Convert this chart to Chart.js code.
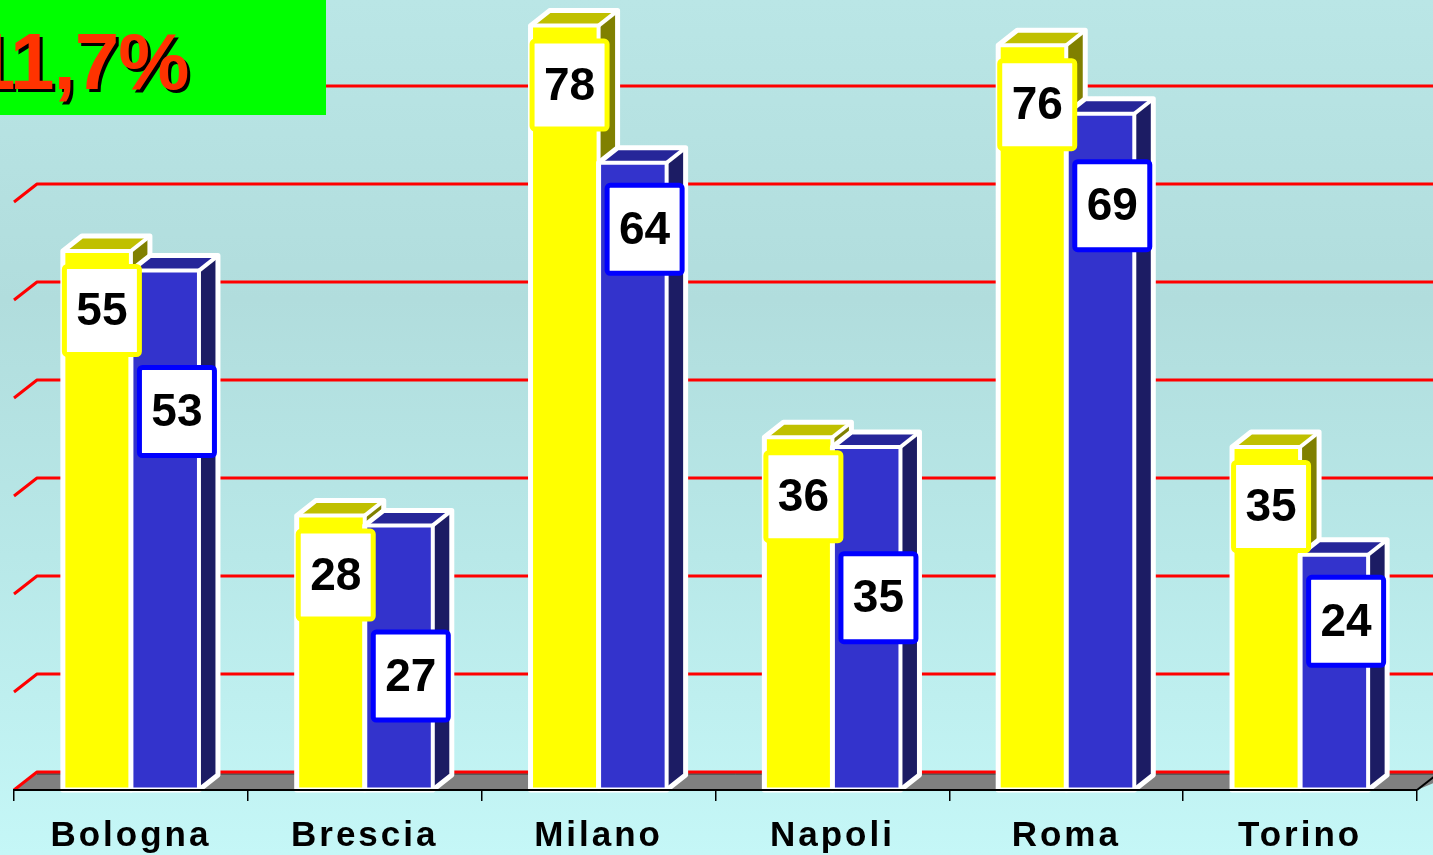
<!DOCTYPE html>
<html><head><meta charset="utf-8">
<script src="https://cdn.jsdelivr.net/npm/chart.js@4.4.1/dist/chart.umd.min.js"></script>
<style>
html,body{margin:0;padding:0;width:1433px;height:855px;overflow:hidden;}
body{position:relative;background:linear-gradient(to bottom, rgb(186,230,230) 0%, rgb(177,221,221) 35%, rgb(184,232,232) 65%, rgb(197,247,247) 100%);}
#wrap{position:absolute;left:0;top:0;width:1433px;height:855px;}
#badge{position:absolute;left:0;top:0;width:326px;height:115px;background:#00FF00;overflow:hidden;}
#badge span{position:absolute;left:-29px;top:22px;font:bold 80px/80px 'Liberation Sans',Arial,sans-serif;letter-spacing:-1px;color:#FF3300;text-shadow:3px 3px 0 #000;white-space:nowrap;}
</style></head><body>
<div id="wrap"><canvas id="c" width="1433" height="855"></canvas></div>
<div id="badge"><span>11,7%</span></div>
<script>
// ---- data ----
const categories = ['Bologna', 'Brescia', 'Milano', 'Napoli', 'Roma', 'Torino'];
const seriesYellow = [55, 28, 78, 36, 76, 35];
const seriesBlue = [53, 27, 64, 35, 69, 24];
const gridValues = [0, 10, 20, 30, 40, 50, 60, 70, 80];

// ---- styling ----
const DEPTH = {dx: 19, dy: -15};
const FLOOR = {dx: 23, dy: -18};
const faces = [
  {front: '#FFFF00', top: '#C0C000', side: '#808000', label: '#FFFF00'},
  {front: '#3333CC', top: '#262699', side: '#1C1C64', label: '#0000FF'}
];

function poly(ctx, pts) {
  ctx.beginPath();
  ctx.moveTo(pts[0][0], pts[0][1]);
  for (let i = 1; i < pts.length; i++) ctx.lineTo(pts[i][0], pts[i][1]);
}

const wallPlugin = {
  id: 'wall3d',
  beforeDraw(chart) { chart.ctx.letterSpacing = '3px'; },
  beforeDatasetsDraw(chart) {
    const ctx = chart.ctx; ctx.letterSpacing = '0px';
    const a = chart.chartArea, y = chart.scales.y;
    const y0 = y.getPixelForValue(0);
    ctx.save();
    ctx.fillStyle = '#808080';
    poly(ctx, [[a.left, y0], [a.left + FLOOR.dx, y0 + FLOOR.dy], [a.right + FLOOR.dx + 20, y0 + FLOOR.dy], [a.right, y0]]);
    ctx.closePath(); ctx.fill();
    ctx.strokeStyle = '#333'; ctx.lineWidth = 1;
    ctx.beginPath(); ctx.moveTo(a.left + FLOOR.dx, y0 + FLOOR.dy + 2); ctx.lineTo(a.right + FLOOR.dx + 20, y0 + FLOOR.dy + 2); ctx.stroke();
    ctx.strokeStyle = '#FF0000'; ctx.lineWidth = 3; ctx.lineJoin = 'round';
    gridValues.forEach(v => {
      const fy = y.getPixelForValue(v), by = fy + FLOOR.dy;
      ctx.beginPath(); ctx.moveTo(a.left, fy); ctx.lineTo(a.left + FLOOR.dx, by); ctx.lineTo(a.right + FLOOR.dx + 20, by); ctx.stroke();
    });
    ctx.strokeStyle = '#000'; ctx.lineWidth = 2;
    ctx.beginPath(); ctx.moveTo(a.right, y0); ctx.lineTo(a.right + FLOOR.dx, y0 + FLOOR.dy); ctx.stroke();
    ctx.restore();
  }
};

const barPlugin = {
  id: 'bars3d',
  // the library computes each bar's geometry; the 3D boxes are drawn here, left series first
  beforeDatasetDraw() { return false; },
  afterDatasetsDraw(chart) {
    const ctx = chart.ctx;
    const dx = DEPTH.dx, dy = DEPTH.dy;
    const metas = [chart.getDatasetMeta(0), chart.getDatasetMeta(1)];
    for (let i = 0; i < categories.length; i++) {
      metas.forEach((meta, di) => {
        const c = faces[di];
        const p = meta.data[i].getProps(['x', 'y', 'base', 'width'], true);
        const l = p.x - p.width / 2, r = p.x + p.width / 2, t = p.y, b = p.base;
        ctx.save();
        ctx.fillStyle = c.front; ctx.fillRect(l, t, r - l, b - t);
        ctx.fillStyle = c.top;
        poly(ctx, [[l, t], [l + dx, t + dy], [r + dx, t + dy], [r, t]]); ctx.closePath(); ctx.fill();
        ctx.fillStyle = c.side;
        poly(ctx, [[r, t], [r + dx, t + dy], [r + dx, b + dy], [r, b]]); ctx.closePath(); ctx.fill();
        ctx.strokeStyle = '#FFFFFF'; ctx.lineWidth = 5; ctx.lineJoin = 'round';
        poly(ctx, [[l, b], [l, t], [l + dx, t + dy], [r + dx, t + dy], [r + dx, b + dy], [r, b]]); ctx.closePath(); ctx.stroke();
        ctx.lineWidth = 4;
        poly(ctx, [[l, t], [r, t], [r, b]]); ctx.stroke();
        poly(ctx, [[r, t], [r + dx, t + dy]]); ctx.stroke();
        ctx.restore();
      });
    }
    const ym = metas[0], bm = metas[1];
    const W = 80, H = 93;
    function box(cx, top, color, text) {
      ctx.save();
      ctx.fillStyle = '#FFFFFF';
      ctx.beginPath(); ctx.roundRect(cx - W / 2 + 2.5, top + 2.5, W - 5, H - 5, 3); ctx.fill();
      ctx.strokeStyle = color; ctx.lineWidth = 5; ctx.stroke();
      ctx.fillStyle = '#000000';
      ctx.font = "bold 46px 'Liberation Sans', Arial, sans-serif";
      ctx.textAlign = 'center'; ctx.textBaseline = 'middle';
      ctx.fillText(text, cx, top + H / 2 + 2);
      ctx.restore();
    }
    for (let i = 0; i < categories.length; i++) {
      const ye = ym.data[i], be = bm.data[i];
      const yTop = ye.y + 13;
      const bTop = Math.max(be.y + 20, yTop + H + 8);
      box(ye.x + 5, yTop, faces[0].label, String(seriesYellow[i]));
      box(be.x + 12, bTop, faces[1].label, String(seriesBlue[i]));
    }
  }
};

new Chart(document.getElementById('c'), {
  type: 'bar',
  data: {
    labels: categories,
    datasets: [
      {data: seriesYellow, backgroundColor: faces[0].front, borderWidth: 0, categoryPercentage: 0.582, barPercentage: 1.0},
      {data: seriesBlue, backgroundColor: faces[1].front, borderWidth: 0, categoryPercentage: 0.582, barPercentage: 1.0}
    ]
  },
  options: {
    responsive: false,
    animation: false,
    devicePixelRatio: 1,
    layout: {padding: {left: 14, right: 16, top: 6, bottom: 0}},
    plugins: {legend: {display: false}, tooltip: {enabled: false}},
    scales: {
      y: {display: false, min: 0, max: 80},
      x: {
        display: true,
        grid: {display: true, drawOnChartArea: false, drawTicks: true, tickLength: 11, color: '#000000', lineWidth: 1.5, offset: true, z: 1},
        border: {display: true, color: '#000000', width: 2, z: 1},
        ticks: {color: '#000000', padding: 14, maxRotation: 0, autoSkip: false,
                font: {family: "'Liberation Sans', Arial, sans-serif", weight: 'bold', size: 35}},
        afterFit: s => { s.height = 65; }
      }
    }
  },
  plugins: [wallPlugin, barPlugin]
});
</script>
</body></html>
